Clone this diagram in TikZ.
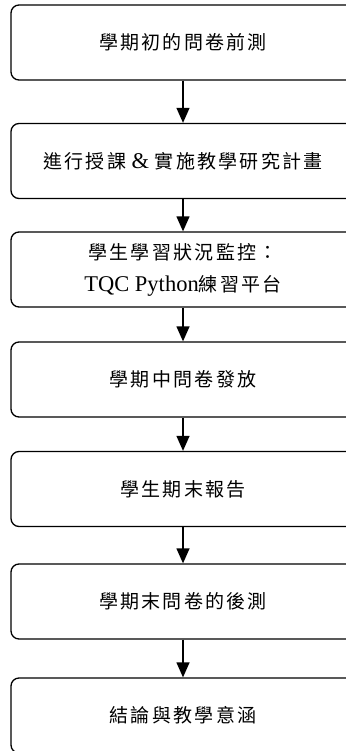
\documentclass[tikz,border=0pt]{standalone}
\usepackage{fontspec}
\setmainfont{Liberation Serif}
\newfontfamily\cjkfont[LetterSpace=12]{Noto Sans CJK TC}
\usetikzlibrary{arrows.meta}
\newcommand\zh[1]{{\fontsize{19}{32}\selectfont\cjkfont #1}}
\begin{document}
\begin{tikzpicture}[x=1pt,y=-1pt,
  stepbox/.style={draw=black, line width=1.3pt, rounded corners=8pt,
    minimum width=344pt, minimum height=75pt, align=center,
    font=\fontsize{22.5}{32}\selectfont, inner sep=0pt},
  flow/.style={draw=black, line width=1.3pt, -{Triangle[length=15pt,width=13pt]}}]
\useasboundingbox (0,0) rectangle (345,751);
\node[stepbox] (b1) at (183,42.5) {\zh{學期初的問卷前測}};
\node[stepbox] (b2) at (183,161) {\zh{進行授課}\ \&\ \zh{實施教學研究計畫}};
\node[stepbox] (b3) at (183,269.5) {\zh{學生學習狀況監控：}\\TQC Python\zh{練習平台}};
\node[stepbox] (b4) at (183,379.5) {\zh{學期中問卷發放}};
\node[stepbox] (b5) at (183,489) {\zh{學生期末報告}};
\node[stepbox] (b6) at (183,601.5) {\zh{學期末問卷的後測}};
\node[stepbox] (b7) at (183,715.5) {\zh{結論與教學意涵}};
\draw[flow] (b1) -- (b2);
\draw[flow] (b2) -- (b3);
\draw[flow] (b3) -- (b4);
\draw[flow] (b4) -- (b5);
\draw[flow] (b5) -- (b6);
\draw[flow] (b6) -- (b7);
\end{tikzpicture}
\end{document}
